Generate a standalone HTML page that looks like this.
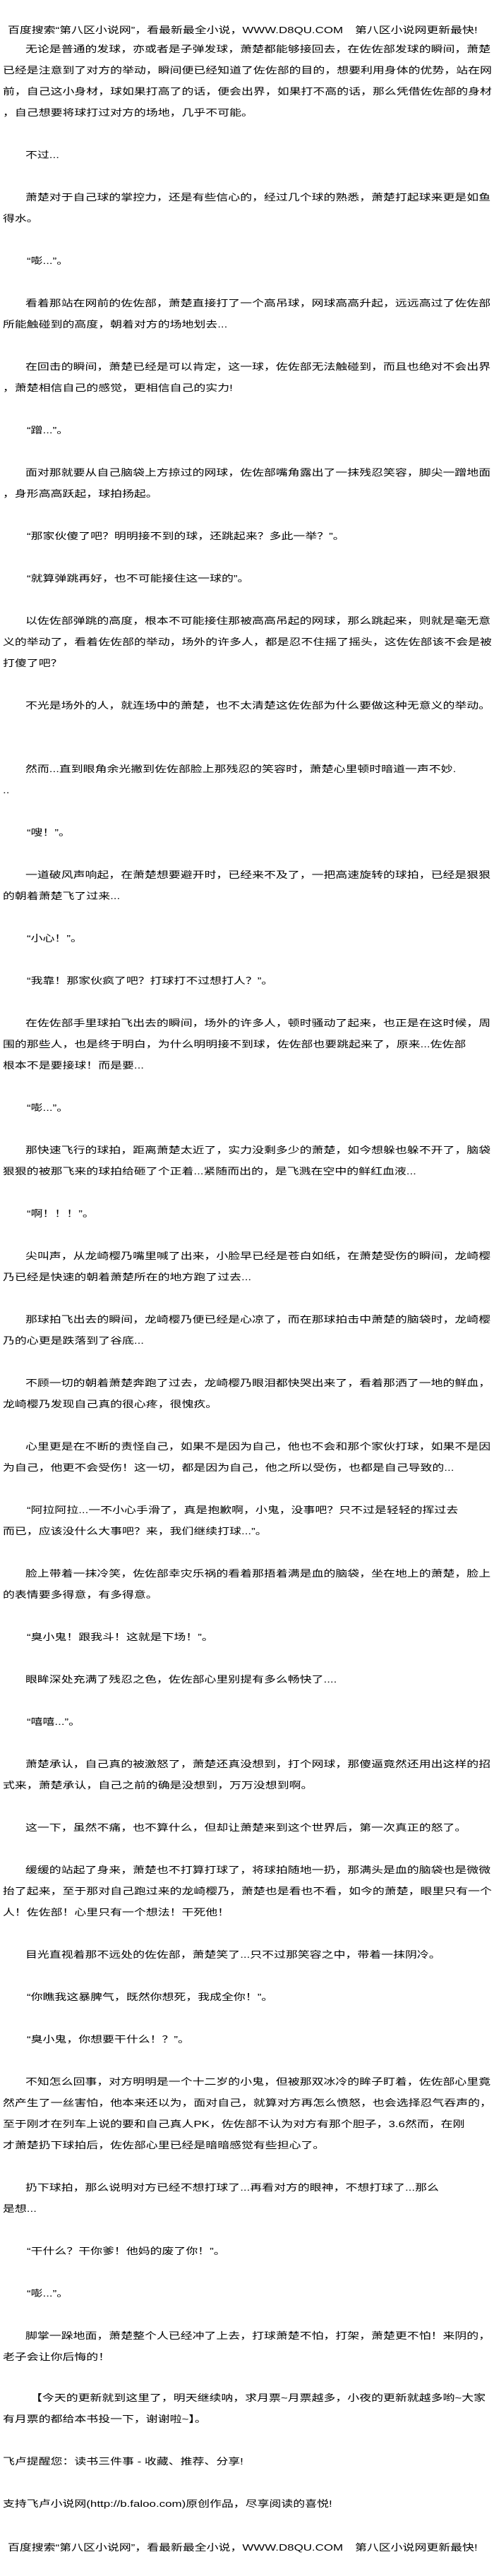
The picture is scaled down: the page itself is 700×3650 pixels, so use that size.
<!DOCTYPE html>
<html><head><meta charset="utf-8">
<style>
html,body{margin:0;padding:0;background:#fff;}
body{width:700px;height:3650px;position:relative;overflow:hidden;font-family:"Liberation Sans","Noto Sans CJK SC",sans-serif;color:#000;}
.l{position:absolute;left:4px;white-space:nowrap;font-size:13px;line-height:30px;height:30px;transform:scaleX(1.3);transform-origin:0 0;}
.i{left:36px;}
.q{left:38px;}
</style></head><body>
<div class="l" style="left:11px;top:28px">百度搜索“第八区小说网”，看最新最全小说，WWW.D8QU.COM　第八区小说网更新最快!</div>
<div class="l i" style="top:55px">无论是普通的发球，亦或者是子弹发球，萧楚都能够接回去，在佐佐部发球的瞬间，萧楚</div>
<div class="l" style="top:85px">已经是注意到了对方的举动，瞬间便已经知道了佐佐部的目的，想要利用身体的优势，站在网</div>
<div class="l" style="top:115px">前，自己这小身材，球如果打高了的话，便会出界，如果打不高的话，那么凭借佐佐部的身材</div>
<div class="l" style="top:145px">，自己想要将球打过对方的场地，几乎不可能。</div>
<div class="l i" style="top:205px">不过...</div>
<div class="l i" style="top:265px">萧楚对于自己球的掌控力，还是有些信心的，经过几个球的熟悉，萧楚打起球来更是如鱼</div>
<div class="l" style="top:295px">得水。</div>
<div class="l q" style="top:355px">“嘭...”。</div>
<div class="l i" style="top:415px">看着那站在网前的佐佐部，萧楚直接打了一个高吊球，网球高高升起，远远高过了佐佐部</div>
<div class="l" style="top:445px">所能触碰到的高度，朝着对方的场地划去...</div>
<div class="l i" style="top:505px">在回击的瞬间，萧楚已经是可以肯定，这一球，佐佐部无法触碰到，而且也绝对不会出界</div>
<div class="l" style="top:535px">，萧楚相信自己的感觉，更相信自己的实力!</div>
<div class="l q" style="top:595px">“蹭...”。</div>
<div class="l i" style="top:655px">面对那就要从自己脑袋上方掠过的网球，佐佐部嘴角露出了一抹残忍笑容，脚尖一蹭地面</div>
<div class="l" style="top:685px">，身形高高跃起，球拍扬起。</div>
<div class="l q" style="top:745px">“那家伙傻了吧？明明接不到的球，还跳起来？多此一举？”。</div>
<div class="l q" style="top:805px">“就算弹跳再好，也不可能接住这一球的”。</div>
<div class="l i" style="top:865px">以佐佐部弹跳的高度，根本不可能接住那被高高吊起的网球，那么跳起来，则就是毫无意</div>
<div class="l" style="top:895px">义的举动了，看着佐佐部的举动，场外的许多人，都是忍不住摇了摇头，这佐佐部该不会是被</div>
<div class="l" style="top:925px">打傻了吧？</div>
<div class="l i" style="top:985px">不光是场外的人，就连场中的萧楚，也不太清楚这佐佐部为什么要做这种无意义的举动。</div>
<div class="l i" style="top:1075px">然而...直到眼角余光撇到佐佐部脸上那残忍的笑容时，萧楚心里顿时暗道一声不妙.</div>
<div class="l" style="top:1105px">..</div>
<div class="l q" style="top:1165px">“嗖！”。</div>
<div class="l i" style="top:1225px">一道破风声响起，在萧楚想要避开时，已经来不及了，一把高速旋转的球拍，已经是狠狠</div>
<div class="l" style="top:1255px">的朝着萧楚飞了过来...</div>
<div class="l q" style="top:1315px">“小心！”。</div>
<div class="l q" style="top:1375px">“我靠！那家伙疯了吧？打球打不过想打人？”。</div>
<div class="l i" style="top:1435px">在佐佐部手里球拍飞出去的瞬间，场外的许多人，顿时骚动了起来，也正是在这时候，周</div>
<div class="l" style="top:1465px">围的那些人，也是终于明白，为什么明明接不到球，佐佐部也要跳起来了，原来...佐佐部</div>
<div class="l" style="top:1495px">根本不是要接球！而是要...</div>
<div class="l q" style="top:1555px">“嘭...”。</div>
<div class="l i" style="top:1615px">那快速飞行的球拍，距离萧楚太近了，实力没剩多少的萧楚，如今想躲也躲不开了，脑袋</div>
<div class="l" style="top:1645px">狠狠的被那飞来的球拍给砸了个正着...紧随而出的，是飞溅在空中的鲜红血液...</div>
<div class="l q" style="top:1705px">“啊！！！”。</div>
<div class="l i" style="top:1765px">尖叫声，从龙崎樱乃嘴里喊了出来，小脸早已经是苍白如纸，在萧楚受伤的瞬间，龙崎樱</div>
<div class="l" style="top:1795px">乃已经是快速的朝着萧楚所在的地方跑了过去...</div>
<div class="l i" style="top:1855px">那球拍飞出去的瞬间，龙崎樱乃便已经是心凉了，而在那球拍击中萧楚的脑袋时，龙崎樱</div>
<div class="l" style="top:1885px">乃的心更是跌落到了谷底...</div>
<div class="l i" style="top:1945px">不顾一切的朝着萧楚奔跑了过去，龙崎樱乃眼泪都快哭出来了，看着那洒了一地的鲜血，</div>
<div class="l" style="top:1975px">龙崎樱乃发现自己真的很心疼，很愧疚。</div>
<div class="l i" style="top:2035px">心里更是在不断的责怪自己，如果不是因为自己，他也不会和那个家伙打球，如果不是因</div>
<div class="l" style="top:2065px">为自己，他更不会受伤！这一切，都是因为自己，他之所以受伤，也都是自己导致的...</div>
<div class="l q" style="top:2125px">“阿拉阿拉...一不小心手滑了，真是抱歉啊，小鬼，没事吧？只不过是轻轻的挥过去</div>
<div class="l" style="top:2155px">而已，应该没什么大事吧？来，我们继续打球...”。</div>
<div class="l i" style="top:2215px">脸上带着一抹冷笑，佐佐部幸灾乐祸的看着那捂着满是血的脑袋，坐在地上的萧楚，脸上</div>
<div class="l" style="top:2245px">的表情要多得意，有多得意。</div>
<div class="l q" style="top:2305px">“臭小鬼！跟我斗！这就是下场！”。</div>
<div class="l i" style="top:2365px">眼眸深处充满了残忍之色，佐佐部心里别提有多么畅快了....</div>
<div class="l q" style="top:2425px">“嘻嘻...”。</div>
<div class="l i" style="top:2485px">萧楚承认，自己真的被激怒了，萧楚还真没想到，打个网球，那傻逼竟然还用出这样的招</div>
<div class="l" style="top:2515px">式来，萧楚承认，自己之前的确是没想到，万万没想到啊。</div>
<div class="l i" style="top:2575px">这一下，虽然不痛，也不算什么，但却让萧楚来到这个世界后，第一次真正的怒了。</div>
<div class="l i" style="top:2635px">缓缓的站起了身来，萧楚也不打算打球了，将球拍随地一扔，那满头是血的脑袋也是微微</div>
<div class="l" style="top:2665px">抬了起来，至于那对自己跑过来的龙崎樱乃，萧楚也是看也不看，如今的萧楚，眼里只有一个</div>
<div class="l" style="top:2695px">人！佐佐部！心里只有一个想法！干死他！</div>
<div class="l i" style="top:2755px">目光直视着那不远处的佐佐部，萧楚笑了...只不过那笑容之中，带着一抹阴冷。</div>
<div class="l q" style="top:2815px">“你瞧我这暴脾气，既然你想死，我成全你！”。</div>
<div class="l q" style="top:2875px">“臭小鬼，你想要干什么！？”。</div>
<div class="l i" style="top:2935px">不知怎么回事，对方明明是一个十二岁的小鬼，但被那双冰冷的眸子盯着，佐佐部心里竟</div>
<div class="l" style="top:2965px">然产生了一丝害怕，他本来还以为，面对自己，就算对方再怎么愤怒，也会选择忍气吞声的，</div>
<div class="l" style="top:2995px">至于刚才在列车上说的要和自己真人PK，佐佐部不认为对方有那个胆子，3.6然而，在刚</div>
<div class="l" style="top:3025px">才萧楚扔下球拍后，佐佐部心里已经是暗暗感觉有些担心了。</div>
<div class="l i" style="top:3085px">扔下球拍，那么说明对方已经不想打球了...再看对方的眼神，不想打球了...那么</div>
<div class="l" style="top:3115px">是想...</div>
<div class="l q" style="top:3175px">“干什么？干你爹！他妈的废了你！”。</div>
<div class="l q" style="top:3235px">“嘭...”。</div>
<div class="l i" style="top:3295px">脚掌一跺地面，萧楚整个人已经冲了上去，打球萧楚不怕，打架，萧楚更不怕！来阴的，</div>
<div class="l" style="top:3325px">老子会让你后悔的！</div>
<div class="l" style="left:43px;top:3383px">【今天的更新就到这里了，明天继续呐，求月票~月票越多，小夜的更新就越多哟~大家</div>
<div class="l" style="top:3413px">有月票的都给本书投一下，谢谢啦~】。</div>
<div class="l" style="top:3473px">飞卢提醒您：读书三件事 - 收藏、推荐、分享!</div>
<div class="l" style="top:3533px">支持飞卢小说网(http://b.faloo.com)原创作品，尽享阅读的喜悦!</div>
<div class="l" style="left:11px;top:3595px">百度搜索“第八区小说网”，看最新最全小说，WWW.D8QU.COM　第八区小说网更新最快!</div>
</body></html>
